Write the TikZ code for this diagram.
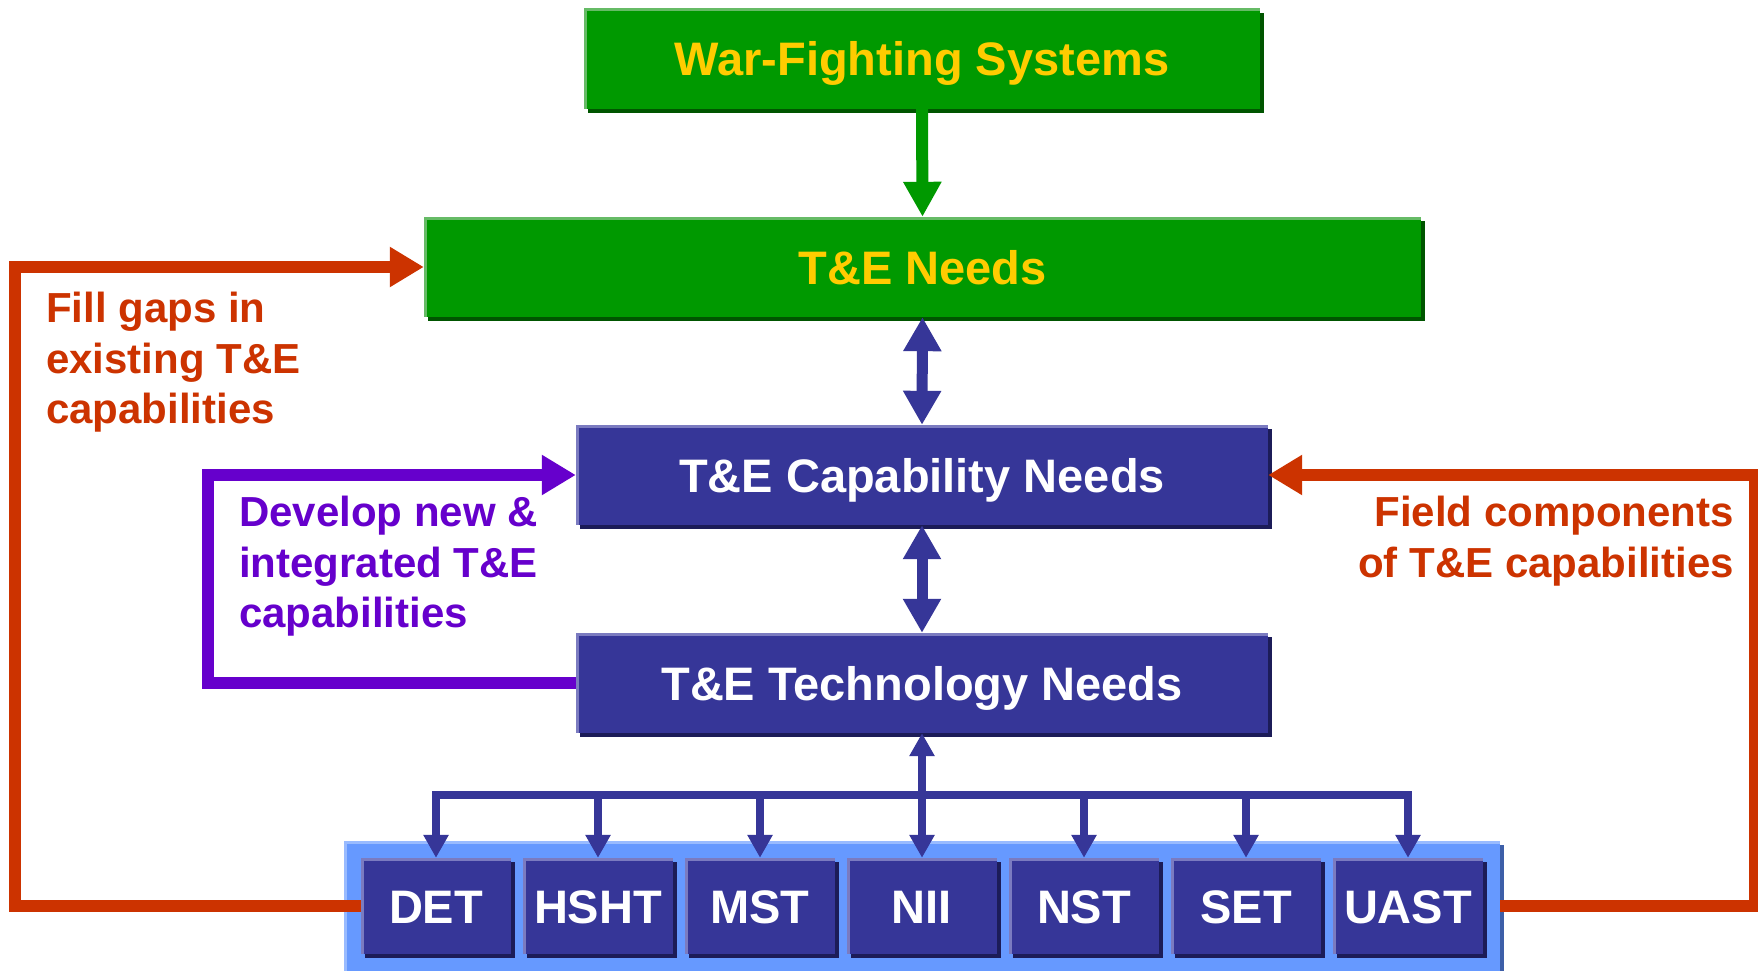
\documentclass[tikz,border=0pt]{standalone}
\usepackage{fontspec}
\setmainfont{Liberation Sans}
\usetikzlibrary{arrows.meta,shadows}
\definecolor{gfill}{HTML}{009900}
\definecolor{glight}{HTML}{66BB66}
\definecolor{gdark}{HTML}{005500}
\definecolor{bfill}{HTML}{363698}
\definecolor{blight}{HTML}{7B7BC0}
\definecolor{bdark}{HTML}{1C1C58}
\definecolor{ylw}{HTML}{FFCC00}
\definecolor{redc}{HTML}{CC3300}
\definecolor{purp}{HTML}{6600CC}
\definecolor{contb}{HTML}{6699FF}
\definecolor{contlight}{HTML}{99BBFF}
\definecolor{contdark}{HTML}{3D5FA8}
\begin{document}
\begin{tikzpicture}[x=1pt,y=-1pt,
  bigf/.style={font=\fontsize{47}{56}\selectfont\bfseries},
  lblf/.style={font=\fontsize{42}{50.5}\selectfont\bfseries},
  gbox/.style={rectangle, inner sep=0pt, fill=gfill, text=ylw, bigf,
    text height=34pt, text depth=0pt,
    drop shadow={shadow xshift=4pt,shadow yshift=-4pt,fill=gdark,opacity=1},
    path picture={\draw[glight,line width=5pt] (path picture bounding box.south west) -- (path picture bounding box.north west) -- (path picture bounding box.north east);}},
  bbox/.style={rectangle, inner sep=0pt, fill=bfill, text=white, bigf,
    text height=34pt, text depth=0pt,
    drop shadow={shadow xshift=4pt,shadow yshift=-4pt,fill=bdark,opacity=1},
    path picture={\draw[blight,line width=5pt] (path picture bounding box.south west) -- (path picture bounding box.north west) -- (path picture bounding box.north east);}},
  sbox/.style={bbox, minimum width=150pt, minimum height=96pt},
  cont/.style={rectangle, inner sep=0pt, fill=contb,
    drop shadow={shadow xshift=4pt,shadow yshift=-4pt,fill=contdark,opacity=1},
    path picture={\draw[contlight,line width=6pt] (path picture bounding box.south west) -- (path picture bounding box.north west) -- (path picture bounding box.north east);}},
  lbl/.style={inner sep=0pt, lblf},
  bigtip/.style={-{Triangle[length=35pt,width=36pt]}},
  dbltip/.style={{Triangle[length=34pt,width=36pt]}-{Triangle[length=34pt,width=36pt]}},
  smalltip/.style={-{Triangle[length=23pt,width=24pt]}},
  sidetip/.style={-{Triangle[length=34pt,width=38pt]}},
  gline/.style={draw=gfill, line width=12pt},
  bline/.style={draw=bfill, line width=11pt},
  sline/.style={draw=bfill, line width=7.5pt, line join=miter},
  rline/.style={draw=redc, line width=12pt, line join=miter},
  pline/.style={draw=purp, line width=12pt, line join=miter}
]
\useasboundingbox[fill=white] (0,0) rectangle (1758,971);

% main boxes
\node[gbox, minimum width=676pt, minimum height=100pt] (wfs) at (922,59) {War-Fighting Systems};
\node[gbox, minimum width=997pt, minimum height=100pt] (ten) at (922.5,267) {T\&E Needs};
\node[bbox, minimum width=692pt, minimum height=100pt] (cap) at (922,475) {T\&E Capability Needs};
\node[bbox, minimum width=692pt, minimum height=100pt] (tech) at (922,683) {T\&E Technology Needs};

% container and small boxes
\node[cont, minimum width=1156pt, minimum height=140pt, anchor=north west] (cont) at (344,841) {};
\node[sbox] (det)  at (436,906)  {DET};
\node[sbox] (hsht) at (598,906)  {HSHT};
\node[sbox] (mst)  at (760,906)  {MST};
\node[sbox] (nii)  at (922,906)  {NII};
\node[sbox] (nst)  at (1084,906) {NST};
\node[sbox] (set)  at (1246,906) {SET};
\node[sbox] (uast) at (1408,906) {UAST};

% vertical connectors
\draw[gline, bigtip] (wfs.south) -- (ten.north);
\draw[bline, dbltip] (ten.south) -- (cap.north);
\draw[bline, dbltip] (cap.south) -- (tech.north);

% bus
\coordinate (bus) at (922,795);
\draw[sline, smalltip] (bus) -- (tech.south);
\foreach \b in {det,hsht,mst,nii,nst,set,uast}
  \draw[sline, smalltip] (bus) -| (\b.north);

% side loops
\coordinate (lx) at (15,0);
\coordinate (rx) at (1755,0);
\coordinate (px) at (207.5,0);
\draw[rline, sidetip] (det.west) -- (det.west -| lx) |- (ten.west);
\draw[rline, sidetip] (cont.east |- uast.east) -- (uast.east -| rx) |- (cap.east);
\draw[pline, sidetip] (tech.west) -- (tech.west -| px) |- (cap.west);

% labels
\node[lbl, text=redc, align=left, anchor=north west] (fillgaps) at (46,292) {Fill gaps in\\existing T\&E\\capabilities};
\node[lbl, text=purp, align=left, anchor=north west] (develop) at (239,496) {Develop new \&\\integrated T\&E\\capabilities};
\node[lbl, text=redc, align=right, anchor=north east] (field) at (1734,496) {Field components\\of T\&E capabilities};
\end{tikzpicture}
\end{document}
